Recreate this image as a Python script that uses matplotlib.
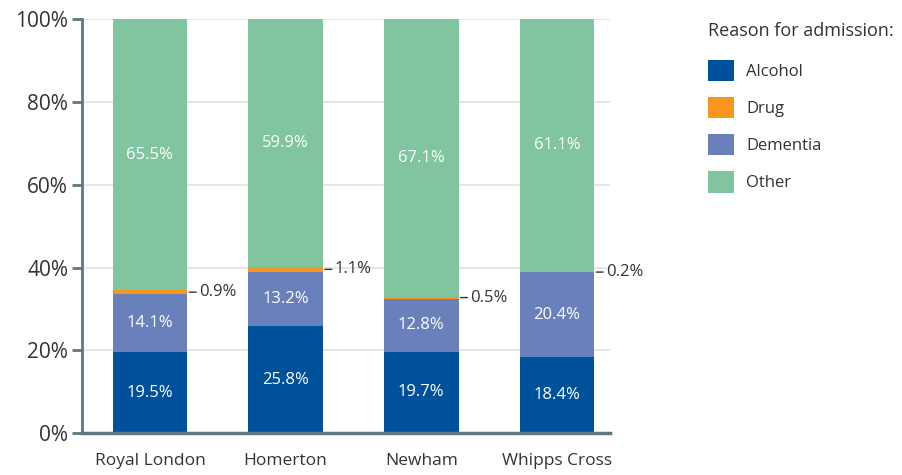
import matplotlib
matplotlib.use('Agg')

import numpy as np
import matplotlib.pyplot as plt

# data
hospitals = ['Royal London', 'Homerton', 'Newham', 'Whipps Cross']
reasons = ['Alcohol', 'Drug', 'Dementia', 'Other']
alcohol = [19.5, 25.8, 19.7, 18.4]
drug = [0.9, 1.1, 0.5, 0.2]
dementia = [14.1, 13.2, 12.8, 20.4]
other = [65.5, 59.9, 67.1, 61.1]
yticks = [0, 20, 40, 60, 80, 100]

colors = {'Alcohol': '#00519c', 'Drug': '#f7971f',
          'Dementia': '#6a80bb', 'Other': '#80c59f'}
text_col = '#333333'
axis_col = '#5f7785'

plt.rcParams['font.family'] = ['Open Sans', 'DejaVu Sans']

fig = plt.figure(figsize=(9.02, 4.75), dpi=100)
ax = fig.add_axes([0.091, 0.088, 0.585, 0.872])

x = np.arange(len(hospitals))
w = 0.55
# stacking order in the bars: alcohol, dementia, drug, other
stack = [('Alcohol', alcohol), ('Dementia', dementia), ('Drug', drug), ('Other', other)]
bottom = np.zeros(len(hospitals))
handles = {}
for name, vals in stack:
    bars = ax.bar(x, vals, w, bottom=bottom, color=colors[name], label=name, zorder=2)
    handles[name] = bars
    for i, v in enumerate(vals):
        mid = bottom[i] + v / 2
        if name == 'Drug':
            ax.annotate(f'{v:.1f}%', xy=(x[i] + w / 2 + 0.015, mid),
                        xytext=(7, 0), textcoords='offset points',
                        va='center', ha='left', fontsize=12, color=text_col,
                        arrowprops=dict(arrowstyle='-', color=text_col, lw=1.0,
                                        shrinkA=0, shrinkB=0))
        else:
            ax.text(x[i], mid, f'{v:.1f}%', ha='center', va='center',
                    color='white', fontsize=12)
    bottom += np.array(vals)

ax.set_xlim(-0.5, 3.39)
ax.set_ylim(0, 100)
ax.set_yticks(yticks)
ax.set_yticklabels([f'{t}%' for t in yticks], fontsize=15, color=text_col)
ax.set_xticks(x)
ax.set_xticklabels(hospitals, fontsize=12.5, color=text_col)
ax.tick_params(axis='x', length=0, pad=14)
ax.tick_params(axis='y', length=7, width=2, color=axis_col, pad=3)
ax.yaxis.grid(True, color='#e2e2e2', lw=1.2, zorder=0)
ax.set_axisbelow(True)
for s in ['top', 'right']:
    ax.spines[s].set_visible(False)
ax.spines['left'].set_color(axis_col)
ax.spines['left'].set_linewidth(2)
ax.spines['bottom'].set_color(axis_col)
ax.spines['bottom'].set_linewidth(2.5)

leg = fig.legend(handles=[handles[r] for r in reasons], labels=reasons, loc='upper left',
                 bbox_to_anchor=(0.768, 0.985), frameon=False,
                 title='Reason for admission:', title_fontsize=13,
                 prop={'size': 12},
                 handlelength=1.6, handleheight=1.6, labelspacing=0.95,
                 handletextpad=0.7, alignment='left')
for t in leg.get_texts():
    t.set_color(text_col)
leg.get_title().set_color(text_col)
leg._legend_box.sep = 14

fig.savefig('out.png', dpi=100)
